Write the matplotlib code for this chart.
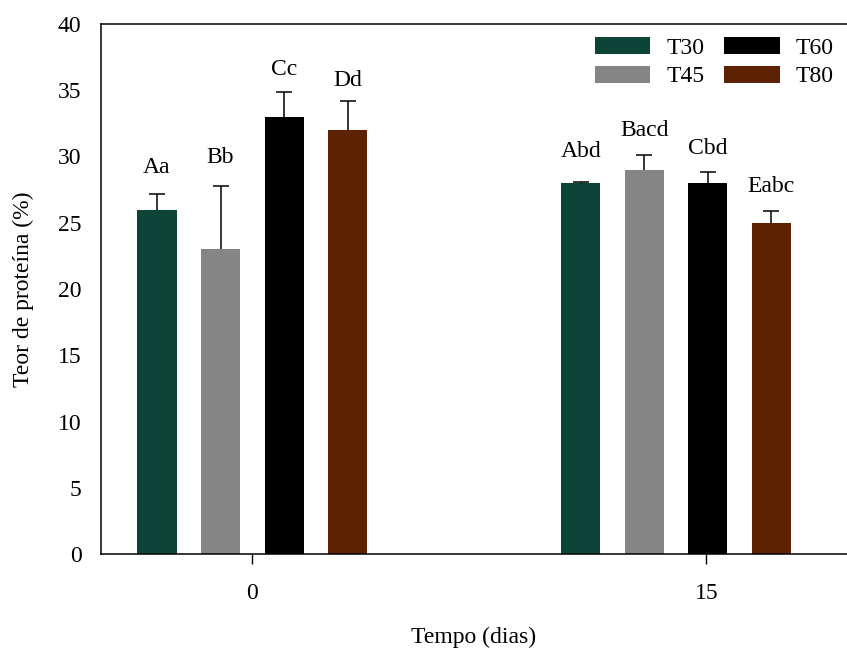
import matplotlib
matplotlib.use("Agg")
import matplotlib.pyplot as plt
import numpy as np

plt.rcParams["font.family"] = ["Liberation Serif", "DejaVu Serif"]

# protein content per treatment, day 0 and day 15
days = ["0", "15"]
treatments = ["T30", "T45", "T60", "T80"]
colors = ["#0c4537", "#858585", "#000000", "#5c2202"]
means = {
    "T30": [26.0, 28.0],
    "T45": [23.0, 29.0],
    "T60": [33.0, 28.0],
    "T80": [32.0, 25.0],
}
errors = {
    "T30": [1.2, 0.08],
    "T45": [4.75, 1.15],
    "T60": [1.9, 0.8],
    "T80": [2.2, 0.9],
}
letters = {
    "T30": ["Aa", "Abd"],
    "T45": ["Bb", "Bacd"],
    "T60": ["Cc", "Cbd"],
    "T80": ["Dd", "Eabc"],
}
# gap (points) between cap and letter baseline
label_gap = {
    "T30": [15, 18],
    "T45": [16.5, 13],
    "T60": [12, 13],
    "T80": [11, 13.5],
}

group_pos = np.array([0.0, 14.0])
tick_pos = [0, 15]
width = 1.29
step = 2.1
fs = 17

fig = plt.figure(figsize=(8.47, 6.51), dpi=100)
ax = fig.add_axes([101 / 847, 1 - 554 / 651, 1 - 101 / 847, (554 - 24) / 651])

for i, t in enumerate(treatments):
    x = group_pos + (i - 1.5) * step
    m = np.array(means[t])
    e = np.array(errors[t])
    ax.bar(x, m, width=width, color=colors[i], label=t, zorder=2)
    _, caps, _ = ax.errorbar(x, m, yerr=[np.zeros_like(e), e], fmt="none",
                             ecolor="black", elinewidth=1.1, capsize=6,
                             capthick=1.1, zorder=3)
    # only the upper cap is shown
    caps[0].set_visible(False)
    for xi, top, lab, gap in zip(x, m + e, letters[t], label_gap[t]):
        ax.annotate(lab, (xi, top), xytext=(0, gap), textcoords="offset points",
                    ha="center", va="baseline", fontsize=fs)

ax.set_xlim(-5.0, 19.65)
ax.set_ylim(0, 40)
ax.set_yticks(np.arange(0, 41, 5))
ax.set_xticks(tick_pos)
ax.set_xticklabels(days)
ax.tick_params(axis="y", length=0, pad=14, labelsize=fs)
ax.tick_params(axis="x", direction="out", length=7, width=1, pad=14, labelsize=fs)
ax.spines["right"].set_visible(False)
for s in ["left", "top", "bottom"]:
    ax.spines[s].set_linewidth(1.1)

ax.set_ylabel("Teor de proteína (%)", fontsize=fs, labelpad=17)
ax.set_xlabel("Tempo (dias)", fontsize=fs, labelpad=16)

ax.legend(ncol=2, loc="upper right", bbox_to_anchor=(1.0, 1.0), frameon=False,
          fontsize=fs, handlelength=2.35, handleheight=0.72, columnspacing=0.85,
          handletextpad=0.68, labelspacing=0.3, borderaxespad=0.15)

fig.savefig("out.png", dpi=100)
